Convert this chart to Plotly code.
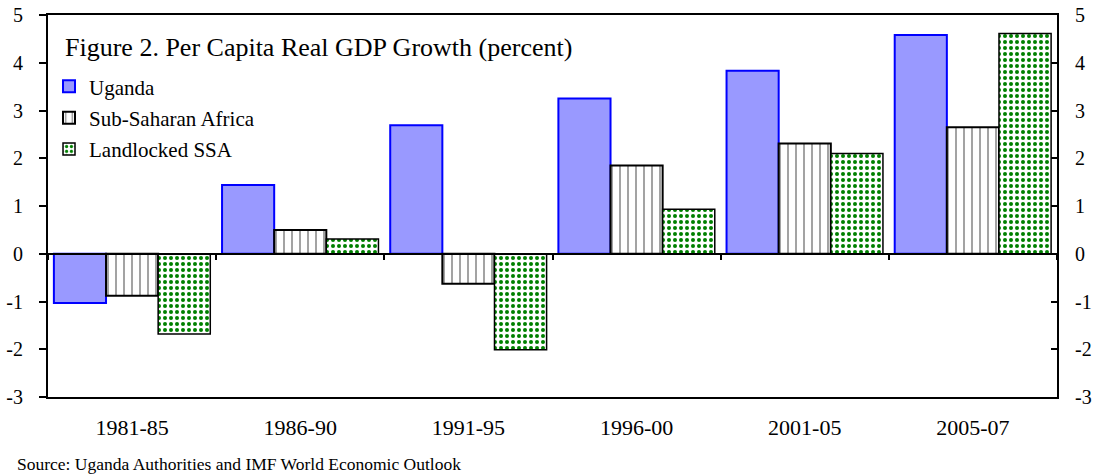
import plotly.graph_objects as go

periods = ["1981-85", "1986-90", "1991-95", "1996-00", "2001-05", "2005-07"]
uganda = [-1.03, 1.44, 2.69, 3.25, 3.83, 4.58]
ssa = [-0.88, 0.50, -0.63, 1.85, 2.31, 2.65]
landlocked = [-1.68, 0.31, -2.01, 0.93, 2.10, 4.61]
y_ticks = [-3, -2, -1, 0, 1, 2, 3, 4, 5]
y_tick_text = ["-3", "-2", "-1", "0", "1", "2", "3", "4", "5"]

FONT = "Liberation Serif, Times New Roman, serif"

fig = go.Figure()
fig.add_trace(go.Bar(
    x=periods, y=uganda, name="Uganda", legendgroup="a",
    marker=dict(color="#9999FF", line=dict(color="#0000FF", width=2)),
))
fig.add_trace(go.Bar(
    x=periods, y=ssa, name="Sub-Saharan Africa", legendgroup="b",
    marker=dict(color="white", line=dict(color="black", width=2),
                pattern=dict(shape="|", fgcolor="black", bgcolor="white",
                             size=8, solidity=0.18)),
))
fig.add_trace(go.Bar(
    x=periods, y=landlocked, name="Landlocked SSA", legendgroup="c",
    marker=dict(color="white", line=dict(color="black", width=1.5),
                pattern=dict(shape=".", fgcolor="#008000", bgcolor="white",
                             fgopacity=1, size=6, solidity=0.35)),
))
# invisible trace to carry right axis
fig.add_trace(go.Scatter(x=periods, y=uganda, yaxis="y2", mode="none",
                         showlegend=False, hoverinfo="skip"))
# invisible trace to carry zero-axis with boundary ticks
fig.add_trace(go.Scatter(x=periods, y=uganda, xaxis="x2", mode="none",
                         showlegend=False, hoverinfo="skip"))

fig.update_layout(
    width=1097, height=476,
    margin=dict(l=48, r=40, t=15, b=79, autoexpand=False),
    paper_bgcolor="white", plot_bgcolor="white",
    barmode="group", bargap=0.07, bargroupgap=0,
    font=dict(family=FONT, color="black", size=19),
    showlegend=True,
    legend=dict(x=0.001, y=0.866, xanchor="left", yanchor="top",
                font=dict(family=FONT, size=21), bgcolor="rgba(0,0,0,0)",
                tracegroupgap=1, itemwidth=30),
    xaxis=dict(type="category", categoryorder="array", categoryarray=periods,
               showline=True, linecolor="black", linewidth=2, mirror=True,
               ticks="", showgrid=False, zeroline=False, automargin=False,
               tickfont=dict(family=FONT, size=22), ticklabelstandoff=10),
    xaxis2=dict(type="category", categoryorder="array", categoryarray=periods,
                overlaying="x", anchor="free", position=0.375, matches="x",
                showline=True, linecolor="black", linewidth=2,
                ticks="outside", tickson="boundaries", ticklen=5,
                tickcolor="black", tickwidth=1.5, automargin=False,
                showticklabels=False, showgrid=False, zeroline=False),
    yaxis=dict(range=[-3, 5], tickvals=y_ticks, ticktext=y_tick_text,
               showgrid=False, zeroline=False, automargin=False,
               ticklabeloverflow="allow",
               showline=True, linecolor="black", linewidth=2,
               ticks="outside", ticklen=7, tickcolor="black", tickwidth=1.5,
               tickfont=dict(family=FONT, size=20), ticklabelstandoff=12),
    yaxis2=dict(range=[-3, 5], tickvals=y_ticks, ticktext=y_tick_text,
                overlaying="y", side="right", automargin=False,
                ticklabeloverflow="allow",
                showgrid=False, zeroline=False,
                showline=True, linecolor="black", linewidth=2,
                ticks="inside", ticklen=6, tickcolor="black", tickwidth=1.5,
                tickfont=dict(family=FONT, size=20), ticklabelstandoff=12),
    annotations=[
        dict(text="Figure 2. Per Capita Real GDP Growth (percent)",
             xref="paper", yref="paper", x=0.015, y=0.914,
             xanchor="left", yanchor="middle", showarrow=False,
             font=dict(family=FONT, size=26)),
        dict(text="Source: Uganda Authorities and IMF World Economic Outlook",
             xref="paper", yref="paper", x=-0.0327, y=-0.175,
             xanchor="left", yanchor="middle", showarrow=False,
             font=dict(family=FONT, size=17.5)),
    ],
)

fig.write_html("out.html", config={"displayModeBar": False},
               post_script="document.body.style.margin='0';")
